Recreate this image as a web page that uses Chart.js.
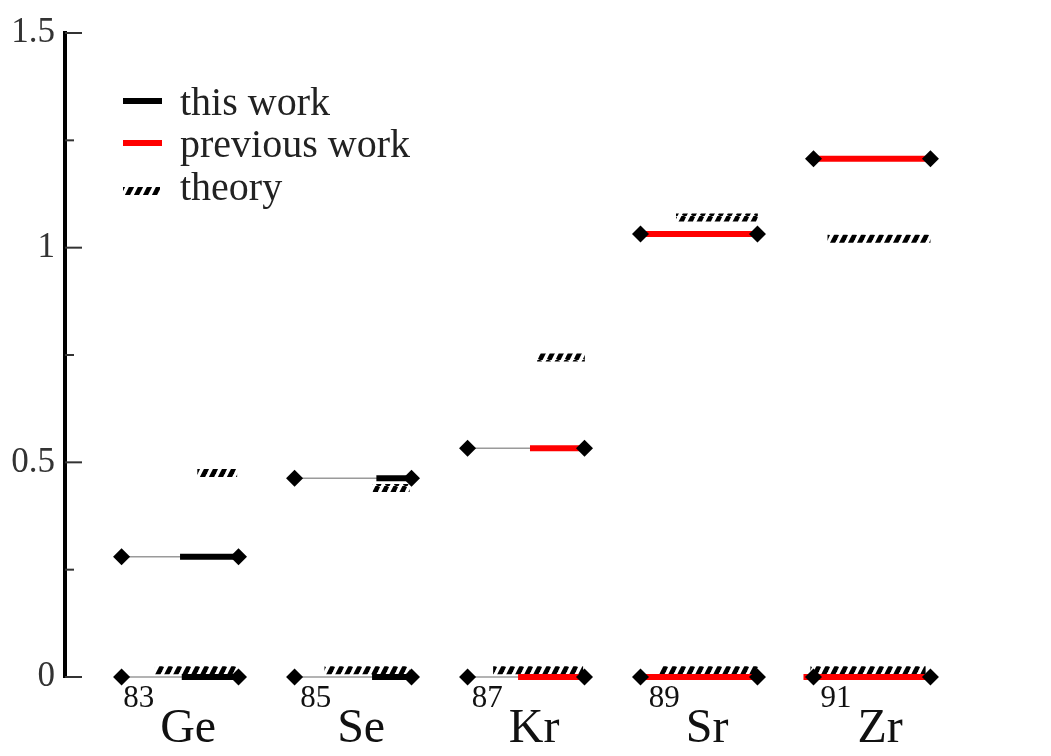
<!DOCTYPE html>
<html>
<head>
<meta charset="utf-8">
<script src="https://cdn.jsdelivr.net/npm/chart.js@4.4.1/dist/chart.umd.min.js"></script>
<style>
  html, body { margin: 0; background: #fff; }
  canvas { display: block; }
</style>
</head>
<body>
<canvas id="chart" width="1051" height="756"></canvas>
<script>
// level energies (MeV)
const massNumbers = ['83', '85', '87', '89', '91'];
const elements = ['Ge', 'Se', 'Kr', 'Sr', 'Zr'];
const groundExp = [0, 0, 0, 0, 0];
const excitedExp = [0.280, 0.463, 0.533, 1.032, 1.207];
const groundTheory = [0.016, 0.016, 0.016, 0.016, 0.016];
const excitedTheory = [0.475, 0.440, 0.744, 1.070, 1.021];
const measuredBy = ['this', 'this', 'previous', 'previous', 'previous'];
const yTicks = [0, 0.5, 1, 1.5];
const yMinorTicks = [0.25, 0.75, 1.25];
const legendLabels = ['this work', 'previous work', 'theory'];

// drawing layout, in x-scale units around each nucleus
const HALF = 0.338;
const thickFrom = {
    ground: [0.01, 0.11, -0.046, -0.335, -0.396],
    excited: [0, 0.135, 0.023, -0.324, -0.338]
};
const hatchSpan = {
    ground: [[-0.145, 0.335], [-0.165, 0.327], [-0.19, 0.33], [-0.23, 0.34], [-0.356, 0.31]],
    excited: [[0.1, 0.33], [0.113, 0.327], [0.064, 0.34], [-0.133, 0.34], [-0.257, 0.338]]
};
const colors = { this: '#000000', previous: '#ff0000' };
const serif = '"Liberation Serif", "Times New Roman", serif';

function makeHatch() {
    const c = document.createElement('canvas');
    c.width = 9;
    c.height = 18;
    const g = c.getContext('2d');
    g.strokeStyle = '#000';
    g.lineWidth = 4.6;
    [-9, 0, 9].forEach(dx => {
        g.beginPath();
        g.moveTo(dx, 18);
        g.lineTo(dx + 9, 0);
        g.stroke();
    });
    return g.createPattern(c, 'repeat');
}
const hatch = makeHatch();

const datasets = [];
const levels = [
    { key: 'ground', exp: groundExp, theory: groundTheory },
    { key: 'excited', exp: excitedExp, theory: excitedTheory }
];
levels.forEach(lv => {
    elements.forEach((el, i) => {
        const [h0, h1] = hatchSpan[lv.key][i];
        const e = lv.exp[i];
        datasets.push({
            data: [{ x: i + h0, y: lv.theory[i] }, { x: i + h1, y: lv.theory[i] }],
            borderColor: hatch, borderWidth: 8, pointRadius: 0, order: 3
        });
        datasets.push({
            data: [{ x: i - HALF, y: e }, { x: i + HALF, y: e }],
            borderColor: '#9a9a9a', borderWidth: 1.5, pointRadius: 0, order: 2
        });
        datasets.push({
            data: [{ x: i + thickFrom[lv.key][i], y: e }, { x: i + HALF, y: e }],
            borderColor: colors[measuredBy[i]], borderWidth: 6, pointRadius: 0, order: 1
        });
        datasets.push({
            data: [{ x: i - HALF, y: e }, { x: i + HALF, y: e }],
            showLine: false, pointStyle: 'rectRot', pointRadius: 8.5,
            backgroundColor: '#000', borderColor: '#000', borderWidth: 0, order: 0
        });
    });
});
datasets.forEach(d => { d.clip = false; if (d.showLine !== false) d.showLine = true; });

const extras = {
    id: 'extras',
    afterDraw(chart) {
        const ctx = chart.ctx;
        const xs = chart.scales.x;
        const ys = chart.scales.y;
        const left = chart.chartArea.left;
        ctx.save();
        // inward tick marks
        ctx.strokeStyle = '#333';
        ctx.lineWidth = 2;
        yTicks.forEach(v => {
            const y = ys.getPixelForValue(v);
            ctx.beginPath(); ctx.moveTo(left, y); ctx.lineTo(left + 17, y); ctx.stroke();
        });
        yMinorTicks.forEach(v => {
            const y = ys.getPixelForValue(v);
            ctx.beginPath(); ctx.moveTo(left, y); ctx.lineTo(left + 9, y); ctx.stroke();
        });

        // nucleus labels with superscript mass number
        ctx.fillStyle = '#111';
        ctx.textBaseline = 'alphabetic';
        ctx.textAlign = 'left';
        const gap = 6;
        elements.forEach((el, i) => {
            const cx = xs.getPixelForValue(i - 0.06);
            ctx.font = `31px ${serif}`;
            const wm = ctx.measureText(massNumbers[i]).width;
            ctx.font = `48px ${serif}`;
            const we = ctx.measureText(el).width;
            const x0 = cx - (wm + we + gap) / 2;
            ctx.font = `31px ${serif}`;
            ctx.fillText(massNumbers[i], x0, 707);
            ctx.font = `48px ${serif}`;
            ctx.fillText(el, x0 + wm + gap, 742);
        });

        // legend
        const rows = [115, 157, 200];
        ctx.font = `40px ${serif}`;
        ctx.fillStyle = '#222';
        legendLabels.forEach((lab, k) => {
            const yb = rows[k];
            ctx.beginPath();
            if (k < 2) {
                ctx.strokeStyle = k === 0 ? colors.this : colors.previous;
                ctx.lineWidth = 6;
                ctx.moveTo(123, yb - 14); ctx.lineTo(162, yb - 14);
            } else {
                ctx.strokeStyle = hatch;
                ctx.lineWidth = 8;
                ctx.moveTo(123, yb - 9); ctx.lineTo(160, yb - 9);
            }
            ctx.stroke();
            ctx.fillText(lab, 180, yb);
        });
        ctx.restore();
    }
};

new Chart(document.getElementById('chart'), {
    type: 'scatter',
    data: { datasets },
    options: {
        responsive: false,
        animation: false,
        events: [],
        layout: { padding: { top: 33, bottom: 79, left: 0, right: 51 } },
        plugins: { legend: { display: false }, tooltip: { enabled: false } },
        scales: {
            x: { type: 'linear', min: -0.665, max: 4.74, display: false },
            y: {
                min: 0, max: 1.5,
                afterFit: s => { s.width = 65; },
                afterBuildTicks: s => { s.ticks = yTicks.map(v => ({ value: v })); },
                grid: { display: false, drawTicks: false },
                border: { display: true, color: '#000', width: 4 },
                ticks: {
                    padding: 10, color: '#333',
                    font: { family: serif, size: 35 },
                    callback: v => String(v)
                }
            }
        }
    },
    plugins: [extras]
});
</script>
</body>
</html>
